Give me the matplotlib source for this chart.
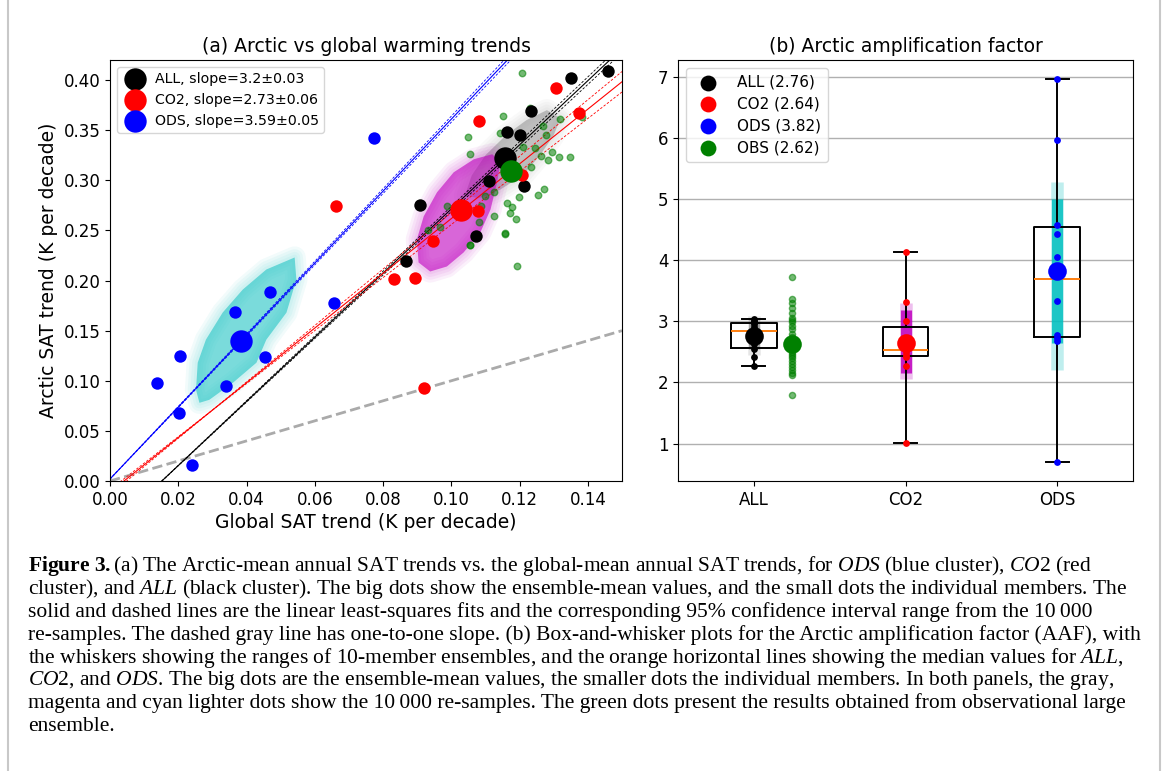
import numpy as np
import matplotlib
matplotlib.use('Agg')
from matplotlib import pyplot as plt
from matplotlib.lines import Line2D

plt.rcParams['mathtext.fontset'] = 'custom'
plt.rcParams['mathtext.rm'] = 'Liberation Serif'
plt.rcParams['mathtext.it'] = 'Liberation Serif:italic'
plt.rcParams['mathtext.bf'] = 'Liberation Serif:bold'

# ---- panel (a): ensemble members, global vs arctic SAT trend (K per decade)
all_x = [0.1460, 0.1352, 0.1232, 0.1164, 0.1201, 0.1110, 0.1213, 0.0907, 0.1071, 0.0868]
all_y = [0.409, 0.402, 0.369, 0.348, 0.345, 0.299, 0.294, 0.275, 0.244, 0.219]
co2_x = [0.1082, 0.1307, 0.1374, 0.0662, 0.1078, 0.0946, 0.0832, 0.0893, 0.1208, 0.0921]
co2_y = [0.359, 0.392, 0.367, 0.274, 0.269, 0.239, 0.202, 0.203, 0.305, 0.093]
ods_x = [0.0139, 0.0206, 0.0202, 0.0239, 0.0366, 0.0339, 0.0468, 0.0453, 0.0657, 0.0774]
ods_y = [0.098, 0.125, 0.068, 0.016, 0.169, 0.095, 0.189, 0.124, 0.178, 0.342]
obs_x = [0.1208, 0.1230, 0.1151, 0.1318, 0.1384, 0.1049, 0.1142, 0.1270, 0.1276, 0.1245,
         0.1264, 0.1284, 0.1296, 0.1314, 0.1347, 0.1056, 0.1124, 0.1100, 0.1088, 0.1164,
         0.1178, 0.1172, 0.1190, 0.1124, 0.1157, 0.1082, 0.1056, 0.1198, 0.1254, 0.1271,
         0.0987, 0.0931, 0.0968, 0.1191, 0.1232, 0.1211, 0.1158, 0.1055]
obs_y = [0.407, 0.372, 0.364, 0.361, 0.363, 0.343, 0.347, 0.354, 0.345, 0.332,
         0.324, 0.320, 0.328, 0.323, 0.323, 0.326, 0.288, 0.284, 0.274, 0.277,
         0.273, 0.267, 0.261, 0.264, 0.247, 0.258, 0.235, 0.283, 0.285, 0.291,
         0.274, 0.250, 0.253, 0.214, 0.313, 0.333, 0.246, 0.235]

mean_x = [0.1158, 0.1029, 0.0384]   # ALL, CO2, ODS
mean_y = [0.322, 0.270, 0.140]
obs_mean = (0.1176, 0.309)

exp_names = ['ALL', 'CO2', 'ODS']
exp_colors = ['k', 'r', 'b']
slopes = [3.2, 2.73, 3.59]
slope_err = [0.03, 0.06, 0.05]
intercepts = [-0.0486, -0.0112, 0.002]
ci_width = [0.03, 0.085, 0.03]
ci_pivot = [0.0152, 0.03, 0.0]

# outlines of the 10 000 re-sample clouds (global, arctic)
cloud_all_x = [0.104, 0.106, 0.110, 0.116, 0.122, 0.128, 0.132, 0.130, 0.126, 0.121, 0.114, 0.108]
cloud_all_y = [0.285, 0.305, 0.325, 0.345, 0.360, 0.370, 0.362, 0.345, 0.325, 0.305, 0.290, 0.282]
cloud_co2_x = [0.1120, 0.1066, 0.1007, 0.0958, 0.0919, 0.0899, 0.0904, 0.0938, 0.0987,
               0.1036, 0.1085, 0.1115, 0.1134, 0.1144]
cloud_co2_y = [0.326, 0.321, 0.308, 0.288, 0.264, 0.241, 0.218, 0.209, 0.214,
               0.228, 0.248, 0.271, 0.298, 0.318]
cloud_ods_x = [0.0262, 0.0252, 0.0257, 0.0281, 0.0330, 0.0389, 0.0458, 0.0541,
               0.0546, 0.0517, 0.0458, 0.0429, 0.0360, 0.0291]
cloud_ods_y = [0.078, 0.091, 0.118, 0.141, 0.168, 0.191, 0.211, 0.223,
               0.201, 0.168, 0.141, 0.118, 0.098, 0.081]

# ---- panel (b): Arctic amplification factor
all_aaf = [2.27, 2.42, 2.55, 2.62, 2.78, 2.90, 2.95, 2.98, 3.00, 3.03]
co2_aaf = [1.01, 2.27, 2.42, 2.45, 2.50, 2.56, 2.64, 3.00, 3.31, 4.14]
ods_aaf = [0.70, 2.68, 2.73, 2.78, 3.33, 4.05, 4.43, 4.57, 5.97, 6.96]
obs_aaf = [3.72, 3.36, 3.30, 3.21, 3.14, 3.06, 3.02, 2.98, 2.92, 2.87, 2.79, 2.75, 2.70,
           2.66, 2.60, 2.58, 2.54, 2.50, 2.46, 2.43, 2.40, 2.35, 2.30, 2.25, 2.21, 2.16,
           2.12, 1.79]
aaf_means = [2.76, 2.64, 3.82]
obs_aaf_mean = 2.62
# re-sample spread (outer, core) per experiment
rs_lo = [2.45, 2.05, 2.20]
rs_hi = [3.08, 3.30, 5.28]
rs_core_lo = [2.55, 2.16, 2.65]
rs_core_hi = [3.02, 3.18, 5.00]
rs_colors = ['#9a9a9a', 'm', 'c']

caption = [
    r'$\mathbf{Figure\ 3.}$(a) The Arctic-mean annual SAT trends vs. the global-mean annual SAT trends, for $\mathit{ODS}$ (blue cluster), $\mathit{CO2}$ (red',
    r'cluster), and $\mathit{ALL}$ (black cluster). The big dots show the ensemble-mean values, and the small dots the individual members. The',
    'solid and dashed lines are the linear least-squares fits and the corresponding 95% confidence interval range from the 10\u2009000',
    're-samples. The dashed gray line has one-to-one slope. (b) Box-and-whisker plots for the Arctic amplification factor (AAF), with',
    r'the whiskers showing the ranges of 10-member ensembles, and the orange horizontal lines showing the median values for $\mathit{ALL}$,',
    r'$\mathit{CO2}$, and $\mathit{ODS}$. The big dots are the ensemble-mean values, the smaller dots the individual members. In both panels, the gray,',
    'magenta and cyan lighter dots show the 10\u2009000 re-samples. The green dots present the results obtained from observational large',
    'ensemble.',
]

W, H = 1168, 771
fig = plt.figure(figsize=(W / 100, H / 100), dpi=100)
ax1 = fig.add_axes([110 / W, 1 - 481 / H, 512 / W, 421 / H])
ax2 = fig.add_axes([678 / W, 1 - 481 / H, 455 / W, 421 / H])

# ---------------- (a)
for cx, cy, col in ((cloud_all_x, cloud_all_y, '#999999'),
                    (cloud_co2_x, cloud_co2_y, 'm'),
                    (cloud_ods_x, cloud_ods_y, '#22c4c4')):
    # soft halo then dense core
    for lw in (16, 12, 8, 4):
        ax1.fill(cx, cy, facecolor='none', edgecolor=col, lw=lw, alpha=0.06,
                 joinstyle='round', zorder=1)
    ax1.fill(cx, cy, color=col, alpha=0.6, lw=0, zorder=1)

xx = np.array([0.0, 0.15])
ax1.plot(xx, xx, '--', color='#aaaaaa', lw=2, zorder=2)
for i in range(3):
    yy = slopes[i] * xx + intercepts[i]
    ax1.plot(xx, yy, '-', color=exp_colors[i], lw=0.8, zorder=2)
    for sgn in (-1, 1):
        ax1.plot(xx, yy + sgn * ci_width[i] * (xx - ci_pivot[i]), '--',
                 color=exp_colors[i], lw=0.6, dashes=(3, 2), zorder=2)

ax1.scatter(obs_x, obs_y, s=22, color='g', alpha=0.55, edgecolors='g', zorder=3)
for px, py, c in ((all_x, all_y, 'k'), (co2_x, co2_y, 'r'), (ods_x, ods_y, 'b')):
    ax1.scatter(px, py, s=80, color=c, lw=0, zorder=4)

handles = []
for i in range(3):
    lab = '%s, slope=%s\u00b1%s' % (exp_names[i], slopes[i], slope_err[i])
    h = ax1.scatter(mean_x[i], mean_y[i], s=260, color=exp_colors[i], lw=0, zorder=5, label=lab)
    handles.append(h)
ax1.scatter(obs_mean[0], obs_mean[1], s=260, color='g', lw=0, zorder=5)

ax1.set_xlim(0, 0.15)
ax1.set_ylim(0, 0.42)
ax1.set_xticks(np.arange(0, 0.141, 0.02))
ax1.set_yticks(np.arange(0, 0.401, 0.05))
ax1.xaxis.set_major_formatter(matplotlib.ticker.FormatStrFormatter('%.2f'))
ax1.yaxis.set_major_formatter(matplotlib.ticker.FormatStrFormatter('%.2f'))
ax1.tick_params(labelsize=12)
ax1.set_xlabel('Global SAT trend (K per decade)', fontsize=13.5, labelpad=3)
ax1.set_ylabel('Arctic SAT trend (K per decade)', fontsize=13.5)
ax1.set_title('(a) Arctic vs global warming trends', fontsize=13.5)
ax1.legend(handles=handles, loc='upper left', fontsize=10.2, scatterpoints=1,
           handletextpad=0.5, labelspacing=0.5, borderpad=0.35, handlelength=1.8)

# ---------------- (b)
ax2.yaxis.grid(True, color='#b0b0b0', lw=1)
ax2.set_axisbelow(True)
pos = [1, 2, 3]
ax2.vlines(pos, rs_lo, rs_hi, colors=rs_colors, lw=9, alpha=0.25, zorder=1)
ax2.vlines(pos, rs_core_lo, rs_core_hi, colors=rs_colors, lw=8, alpha=0.85, zorder=1)

ax2.boxplot([all_aaf, co2_aaf, ods_aaf], positions=pos, whis=(0, 100), zorder=2,
            medianprops=dict(color='#ff7f0e', lw=1.4),
            boxprops=dict(lw=1.4), whiskerprops=dict(lw=1.4), capprops=dict(lw=1.4))

for i, vals in enumerate((all_aaf, co2_aaf, ods_aaf)):
    ax2.scatter([pos[i]] * len(vals), vals, s=24, color=exp_colors[i], lw=0, zorder=4)
ax2.scatter([1.25] * len(obs_aaf), obs_aaf, s=20, color='g', alpha=0.55, edgecolors='g', zorder=3)

bh = []
for i in range(3):
    h = ax2.scatter(pos[i], aaf_means[i], s=180, color=exp_colors[i], lw=0, zorder=5,
                    label='%s (%.2f)' % (exp_names[i], aaf_means[i]))
    bh.append(h)
h = ax2.scatter(1.25, obs_aaf_mean, s=180, color='g', lw=0, zorder=5,
                label='OBS (%.2f)' % obs_aaf_mean)
bh.append(h)

ax2.set_xlim(0.5, 3.5)
ax2.set_xticks(pos)
ax2.set_xticklabels(exp_names)
ax2.set_yticks(range(1, 8))
ax2.tick_params(labelsize=12)
ax2.set_title('(b) Arctic amplification factor', fontsize=13.5)
ax2.legend(handles=bh, loc='upper left', fontsize=11, scatterpoints=1, markerscale=0.85,
           handletextpad=0.9, labelspacing=0.45, borderpad=0.45)

# ---------------- caption and frame
for k, line in enumerate(caption):
    fig.text(28 / W, 1 - (566 + 22.9 * k) / H, line, fontsize=15.45, va='center',
             family='Liberation Serif')

for xf in (8, 1160):
    fig.add_artist(Line2D([xf / W, xf / W], [0, 1], transform=fig.transFigure,
                          color='#c8c8c8', lw=1.5))

fig.savefig('out.png', dpi=100)
